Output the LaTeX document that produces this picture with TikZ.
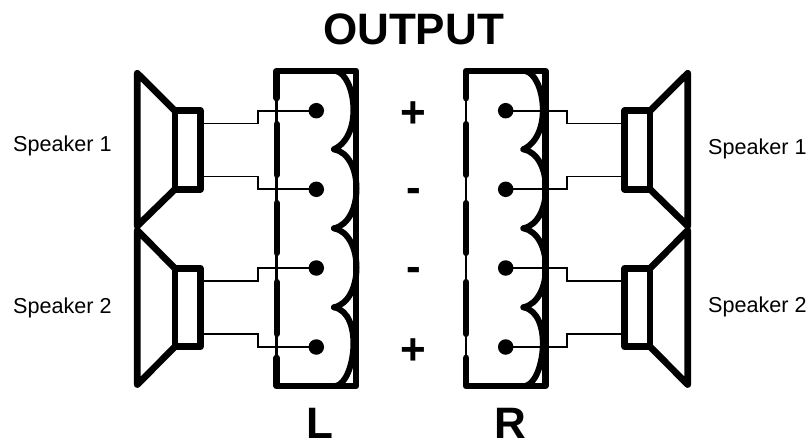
\documentclass[tikz,border=0pt]{standalone}
\usepackage{fontspec}
\usetikzlibrary{calc}
\setmainfont{Liberation Sans}
\begin{document}
\begin{tikzpicture}[x=1pt,y=-1pt,
  thickline/.style={line width=6.7pt,line join=round,line cap=round},
  wallseg/.style={line width=6.2pt,line cap=round},
  wallthin/.style={line width=2.7pt},
  scallop/.style={line width=6pt,line cap=round},
  wire/.style={line width=1.7pt,line join=miter},
  term/.style={circle,fill=black,inner sep=0pt,minimum size=15.5pt,outer sep=0pt},
  vcoil/.style={draw,line width=6.7pt,line join=round,minimum width=25.3pt,minimum height=78.5pt,inner sep=0pt,outer sep=0pt},
  lab/.style={font=\fontsize{21.6}{21.6}\selectfont,inner sep=0pt,anchor=base west},
  big/.style={font=\fontsize{44}{44}\selectfont\bfseries,inner sep=0pt,anchor=base},
  sign/.style={font=\fontsize{44}{44}\selectfont\bfseries,inner sep=0pt}]
\useasboundingbox (0,0) rectangle (812,441);
% connector housings
\foreach \h/\dx in {L/0,R/189.4}{
\begin{scope}[xshift=\dx pt]
  \coordinate (\h tl) at (276.7,71);
  \coordinate (\h tr) at (356,71);
  \coordinate (\h br) at (356,386);
  \coordinate (\h bl) at (276.7,386);
  \draw[thickline] (\h tl) ++(0,27) -- (\h tl) -- (\h tr) -- (\h br) -- (\h bl) -- ++(0,-28);
  \draw[wallthin] (\h tl) -- (\h bl);
  \draw[wallseg] (276.7,124) -- (276.7,175);
  \draw[wallseg] (276.7,203) -- (276.7,253);
  \draw[wallseg] (276.7,282) -- (276.7,334);
  \coordinate (\h t0) at (336,71);
  \coordinate (\h t1) at (334,149.3);
  \coordinate (\h t2) at (334,228.3);
  \coordinate (\h t3) at (334,307.3);
  \coordinate (\h t4) at (336,386);
  \draw[scallop] (\h t0) .. controls (355,75) and (364,135) .. (\h t1);
  \draw[scallop] (\h t1) .. controls (364,155) and (364,222) .. (\h t2);
  \draw[scallop] (\h t2) .. controls (364,234) and (364,301) .. (\h t3);
  \draw[scallop] (\h t3) .. controls (364,313) and (355,382) .. (\h t4);
  \node[term] (\h d1) at (316.3,110.7) {};
  \node[term] (\h d2) at (316.3,189.3) {};
  \node[term] (\h d3) at (316.3,268) {};
  \node[term] (\h d4) at (316.3,347) {};
\end{scope}}
% speakers
\foreach \s/\sgn/\off/\c/\yc/\dA/\dB/\ya/\yb/\sd in {L1/1/0/L/150/1/2/73.3/226/west,L2/1/0/L/307.5/3/4/230.5/384.5/west,R1/-1/825/R/150/1/2/73.3/226/east,R2/-1/825/R/307.5/3/4/230.5/384.5/east}{
\begin{scope}[shift={(\off pt,0pt)},xscale=\sgn]
  \node[vcoil] (\s box) at (187.6,\yc) {};
  \coordinate (\s ca) at (137.3,\ya);
  \coordinate (\s cb) at (137.3,\yb);
  \draw[thickline] (\s box.north \sd) -- (\s ca) -- (\s cb) -- (\s box.south \sd);
  \coordinate (\s aw) at (200.3,\yc-26.5);
  \coordinate (\s bw) at (200.3,\yc+26.5);
  \coordinate (\s sa) at (258.3,\yc-26.5);
  \coordinate (\s sb) at (258.3,\yc+26.5);
\end{scope}
\draw[wire] (\s aw) -- (\s sa) |- (\c d\dA);
\draw[wire] (\s bw) -- (\s sb) |- (\c d\dB);
}
% labels
\node[big] (title) at (413.5,45) {OUTPUT};
\node[sign] (s1) at (413.7,115) {+};
\node[sign] (s2) at (413.7,195) {-};
\node[sign] (s3) at (413.7,274.5) {-};
\node[sign] (s4) at (413.7,351.2) {+};
\node[big] (lL) at (319.5,438.5) {L};
\node[big] (lR) at (510,438.5) {R};
\node[lab] (t1) at (13,151.7) {Speaker 1};
\node[lab] (t2) at (13,313) {Speaker 2};
\node[lab] (t3) at (708,155) {Speaker 1};
\node[lab] (t4) at (708,312.3) {Speaker 2};
\end{tikzpicture}
\end{document}
